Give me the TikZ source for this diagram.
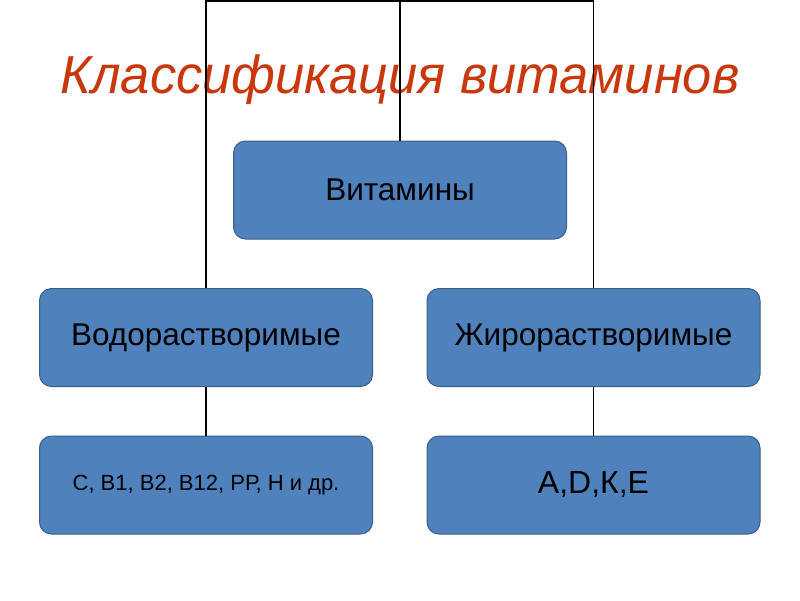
\documentclass[tikz,border=0pt]{standalone}
\usepackage{fontspec}
\setmainfont{Liberation Sans}
\definecolor{boxfill}{HTML}{4F81BD}
\definecolor{boxline}{HTML}{3A5F8B}
\definecolor{titlered}{HTML}{C8380C}
\begin{document}
\begin{tikzpicture}[x=1pt,y=-1pt,
  vbox/.style={draw=boxline, line width=1pt, fill=boxfill, rounded corners=12pt, minimum width=333pt, minimum height=98pt, inner sep=0pt, text=black, align=center},
  conn/.style={draw=black, line width=1.6pt}]
\useasboundingbox (0,0) rectangle (800,600);
\node[anchor=base, text=titlered, font=\fontsize{53.5}{60}\selectfont\itshape, xscale=0.98] (title) at (400,93) {Классификация витаминов};
\node[vbox, font=\fontsize{31.5}{36}\selectfont] (vit) at (400,190) {Витамины};
\node[vbox, font=\fontsize{31.5}{36}\selectfont] (water) at (206,337.5) {Водорастворимые};
\node[vbox, font=\fontsize{31.5}{36}\selectfont] (fat) at (593.5,337.5) {Жирорастворимые};
\node[vbox, font=\fontsize{22}{26}\selectfont] (wlist) at (206,485) {С, В1, В2, В12, РР, Н и др.};
\node[vbox, font=\fontsize{32}{36}\selectfont] (flist) at (593.5,485) {А,D,К,Е};
\coordinate (tl) at (206,1);
\coordinate (tm) at (400,1);
\coordinate (tr) at (593.5,1);
\draw[conn] (water.north) -- (tl) -- (tr) -- (fat.north);
\draw[conn] (tm) -- (vit.north);
\draw[conn] (water.south) -- (wlist.north);
\draw[conn] (fat.south) -- (flist.north);
\end{tikzpicture}
\end{document}
